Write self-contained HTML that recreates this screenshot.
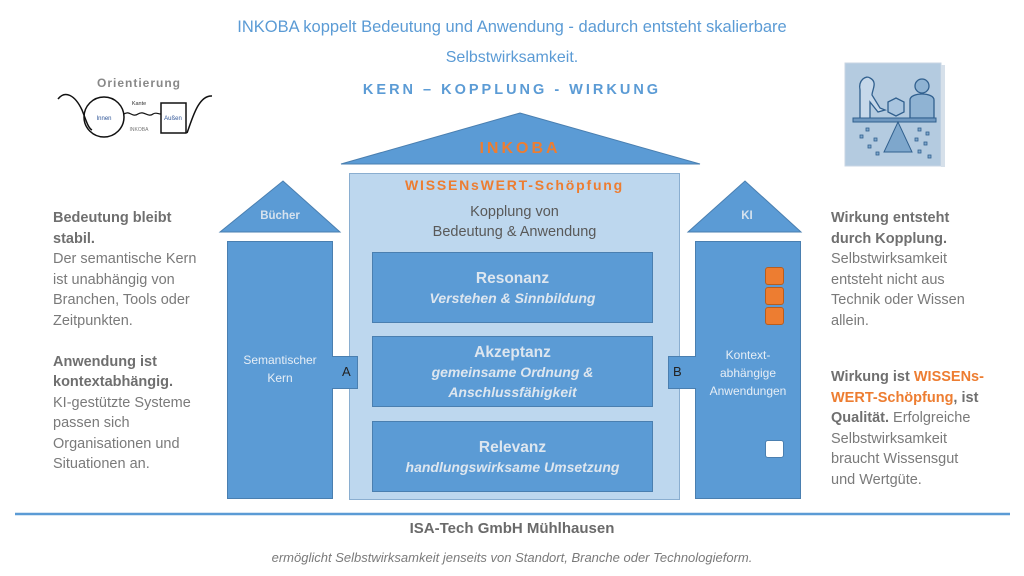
<!DOCTYPE html>
<html><head><meta charset="utf-8"><style>
body{margin:0;width:1024px;height:576px;background:#fff;position:relative;overflow:hidden;font-family:"Liberation Sans",sans-serif}
.a{position:absolute}
.t{position:absolute;font-size:14.5px;line-height:20.5px;color:#7a7a7a}
.t b{color:#6f6f6f}
.o{color:#ed7d31}
.box{position:absolute;background:#5b9bd5;border:1px solid #4a7fb0;box-sizing:border-box}
.in{position:absolute;left:372px;width:281px;height:71px;background:#5b9bd5;border:1px solid #4a7fb0;box-sizing:border-box;text-align:center;color:#dde6ef;font-weight:bold}
.in .h{font-size:15.5px;margin-top:7px}
.in.s .h{margin-top:17px}
.in i{font-size:14px;display:block;line-height:20px}
</style></head><body>
<div class="a" style="left:0;width:1024px;top:18px;text-align:center;color:#5b9bd5;font-size:16.5px">INKOBA koppelt Bedeutung und Anwendung - dadurch entsteht skalierbare</div>
<div class="a" style="left:0;width:1024px;top:49px;text-align:center;color:#5b9bd5;font-size:16px">Selbstwirksamkeit.</div>
<div class="a" style="left:0;width:1024px;top:82px;text-align:center;color:#5b9bd5;font-size:14.5px;font-weight:bold;letter-spacing:3px">KERN – KOPPLUNG - WIRKUNG</div>

<svg class="a" style="left:0;top:0" width="1024" height="576">
<text x="139" y="87" font-family="Liberation Sans" font-weight="bold" font-size="12" fill="#888" text-anchor="middle" letter-spacing="1">Orientierung</text>
<path d="M58,99 C65,90 75,95 82,110 C86,120 88,128 92,130" fill="none" stroke="#111" stroke-width="1.5"/>
<path d="M187,133 C192,120 198,95 212,96" fill="none" stroke="#111" stroke-width="1.5"/>
<circle cx="104" cy="117" r="20" fill="none" stroke="#111" stroke-width="1.5"/>
<path d="M124,114 C130,110 132,118 138,114 C144,110 148,118 153,114 C156,112 158,114 161,114" fill="none" stroke="#111" stroke-width="1.2"/>
<rect x="161" y="103" width="25" height="30" fill="none" stroke="#111" stroke-width="1.5"/>
<text x="104" y="120" font-size="6" fill="#2f5597" text-anchor="middle" font-family="Liberation Sans">Innen</text>
<text x="173" y="120" font-size="6" fill="#2f5597" text-anchor="middle" font-family="Liberation Sans">Außen</text>
<text x="139" y="105" font-size="5.5" fill="#333" text-anchor="middle" font-family="Liberation Sans">Kante</text>
<text x="139" y="131" font-size="5" fill="#777" text-anchor="middle" font-family="Liberation Sans">INKOBA</text>
<rect x="845" y="63" width="96" height="103" fill="#b4cbe0" stroke="#c9d6e3"/>
<rect x="941" y="65" width="4" height="102" fill="#d6e0ea"/>
<path d="M860,118 L860,90 C858,80 866,75 870,78 C878,82 872,90 872,95 L880,108 L885,110 L878,112 L870,102 L870,118" fill="#c6d8ea" stroke="#31608e" stroke-width="1.3"/>
<circle cx="922" cy="86" r="7" fill="#8fb3d3" stroke="#31608e" stroke-width="1.3"/>
<path d="M910,118 L910,100 C910,92 934,92 934,100 L934,118 Z" fill="#8fb3d3" stroke="#31608e" stroke-width="1.3"/>
<path d="M888,102 L896,98 L904,102 L904,112 L896,116 L888,112 Z" fill="#a9c5df" stroke="#31608e" stroke-width="1.3"/>
<rect x="853" y="118" width="83" height="4" fill="#6f98c0" stroke="#31608e"/>
<path d="M898,122 L884,152 L912,152 Z" fill="#7ea7cc" stroke="#31608e"/>
<g fill="#7ea7cc" stroke="#31608e" stroke-width=".8">
<rect x="866" y="128" width="3" height="3"/><rect x="860" y="135" width="3" height="3"/><rect x="874" y="138" width="3" height="3"/><rect x="868" y="145" width="3" height="3"/><rect x="876" y="152" width="3" height="3"/>
<rect x="918" y="128" width="3" height="3"/><rect x="926" y="132" width="3" height="3"/><rect x="915" y="138" width="3" height="3"/><rect x="924" y="142" width="3" height="3"/><rect x="918" y="150" width="3" height="3"/><rect x="928" y="155" width="3" height="3"/></g>
<path d="M341,164 L520,113 L700,164 Z" fill="#5b9bd5" stroke="#4a7fb0"/>
<path d="M220,232 L283,181 L340,232 Z" fill="#5b9bd5" stroke="#4a7fb0"/>
<path d="M688,232 L745,181 L801,232 Z" fill="#5b9bd5" stroke="#4a7fb0"/>
<text x="520" y="153" text-anchor="middle" font-family="Liberation Sans" font-weight="bold" font-size="16" fill="#ed7d31" letter-spacing="3">INKOBA</text>
<text x="280" y="219" text-anchor="middle" font-family="Liberation Sans" font-weight="bold" font-size="11.5" fill="#d6e2ee">Bücher</text>
<text x="747" y="219" text-anchor="middle" font-family="Liberation Sans" font-weight="bold" font-size="11.5" fill="#d6e2ee">KI</text>
<line x1="15" y1="514" x2="1010" y2="514" stroke="#5b9bd5" stroke-width="2.5"/>
</svg>

<div class="a" style="left:349px;top:173px;width:331px;height:327px;background:#bdd7ee;border:1px solid #8aaed0;box-sizing:border-box"></div>
<div class="a" style="left:349px;top:177px;width:331px;text-align:center;color:#ed7d31;font-weight:bold;font-size:14px;letter-spacing:1.8px">WISSENsWERT-Schöpfung</div>
<div class="a" style="left:349px;top:202px;width:331px;text-align:center;color:#595959;font-size:14.5px;line-height:20px">Kopplung von<br>Bedeutung &amp; Anwendung</div>
<div class="in s" style="top:252px"><div class="h">Resonanz</div><i>Verstehen &amp; Sinnbildung</i></div>
<div class="in" style="top:336px"><div class="h">Akzeptanz</div><i>gemeinsame Ordnung &amp;<br>Anschlussfähigkeit</i></div>
<div class="in s" style="top:421px"><div class="h">Relevanz</div><i>handlungswirksame Umsetzung</i></div>

<div class="box" style="left:227px;top:241px;width:106px;height:258px"></div>
<div class="box" style="left:332px;top:356px;width:26px;height:33px;border-left:none"></div>
<div class="a" style="left:227px;top:351px;width:106px;text-align:center;color:#e6eef6;font-size:12px;line-height:18px">Semantischer<br>Kern</div>
<div class="a" style="left:342px;top:364px;font-size:13px;color:#222">A</div>

<div class="box" style="left:695px;top:241px;width:106px;height:258px"></div>
<div class="box" style="left:668px;top:356px;width:28px;height:33px;border-right:none"></div>
<div class="a" style="left:695px;top:346px;width:106px;text-align:center;color:#e6eef6;font-size:12px;line-height:18px">Kontext-<br>abhängige<br>Anwendungen</div>
<div class="a" style="left:673px;top:364px;font-size:13px;color:#222">B</div>
<div class="a" style="left:765px;top:267px;width:17px;height:16px;background:#ed7d31;border:1px solid #b85d1e;border-radius:3px"></div>
<div class="a" style="left:765px;top:287px;width:17px;height:16px;background:#ed7d31;border:1px solid #b85d1e;border-radius:3px"></div>
<div class="a" style="left:765px;top:307px;width:17px;height:16px;background:#ed7d31;border:1px solid #b85d1e;border-radius:3px"></div>
<div class="a" style="left:765px;top:440px;width:17px;height:16px;background:#fff;border:1px solid #4a7fb0;border-radius:3px"></div>

<div class="t" style="left:53px;top:208px;width:170px"><b>Bedeutung bleibt<br>stabil.</b><br>Der semantische Kern<br>ist unabhängig von<br>Branchen, Tools oder<br>Zeitpunkten.<br><br><b>Anwendung ist<br>kontextabhängig.</b><br>KI-gestützte Systeme<br>passen sich<br>Organisationen und<br>Situationen an.</div>
<div class="t" style="left:831px;top:208px;width:180px"><b>Wirkung entsteht<br>durch Kopplung.</b><br>Selbstwirksamkeit<br>entsteht nicht aus<br>Technik oder Wissen<br>allein.<br><div style="height:36px"></div><b>Wirkung ist <span class="o">WISSENs-<br>WERT-Schöpfung</span>, ist<br>Qualität.</b> Erfolgreiche<br>Selbstwirksamkeit<br>braucht Wissensgut<br>und Wertgüte.</div>

<div class="a" style="left:0;width:1024px;top:520px;text-align:center;color:#6a6a6a;font-weight:bold;font-size:15px">ISA-Tech GmbH Mühlhausen</div>
<div class="a" style="left:0;width:1024px;top:550px;text-align:center;color:#7a7a7a;font-style:italic;font-size:13px">ermöglicht Selbstwirksamkeit jenseits von Standort, Branche oder Technologieform.</div>
</body></html>
